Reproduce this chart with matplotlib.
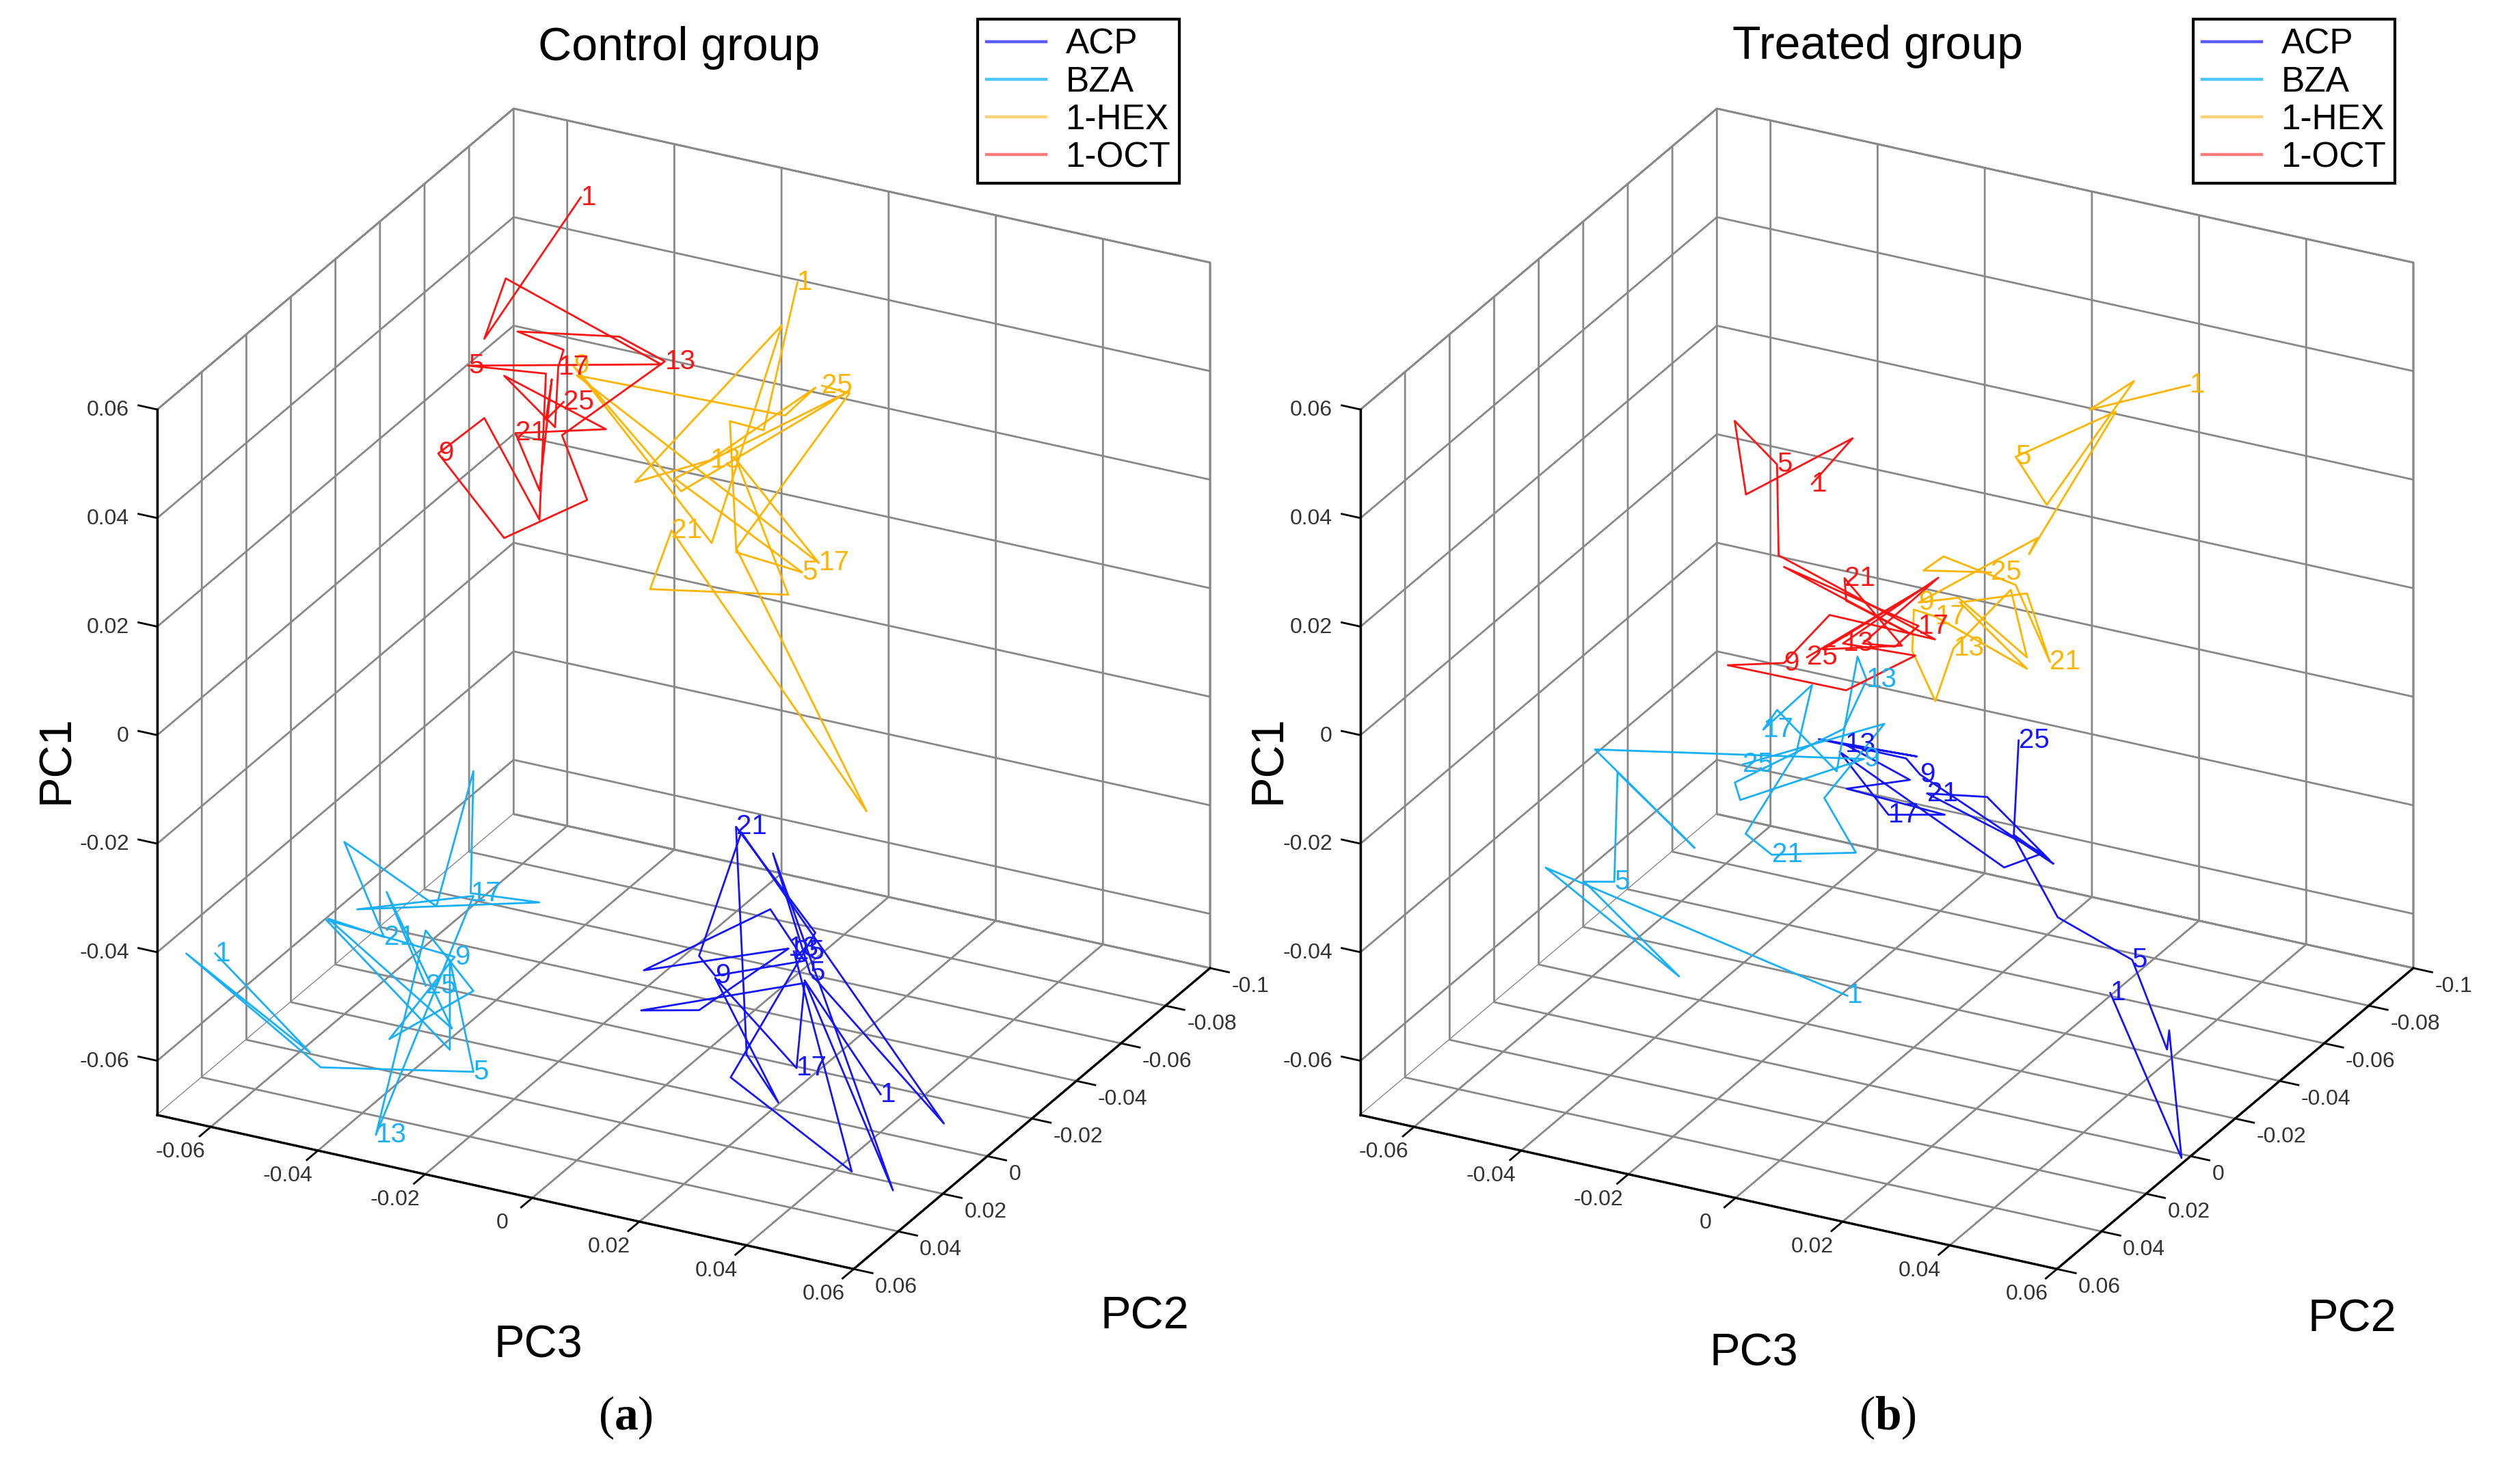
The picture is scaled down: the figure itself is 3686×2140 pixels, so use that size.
import numpy as np
import matplotlib
matplotlib.use("Agg")
import matplotlib.pyplot as plt
from matplotlib.lines import Line2D

plt.rcParams['font.family'] = ['Liberation Sans', 'DejaVu Sans']
plt.rcParams['mathtext.fontset'] = 'custom'
plt.rcParams['mathtext.rm'] = 'Liberation Serif'
plt.rcParams['mathtext.bf'] = 'Liberation Serif:bold'

W, H = 3687, 2140

# ---- data: time steps 1..25 of each odour trajectory (PC3, PC2, PC1) ----
group_names = ['ACP', 'BZA', '1-HEX', '1-OCT']
step_labels = ['1', '5', '9', '13', '17', '21', '25']
label_idx = [0, 4, 8, 12, 16, 20, 24]

# control group
ctrl_acp_pc3 = [0.0484, 0.0342, 0.0507, 0.0283, 0.0352, 0.0602, 0.0224, 0.0145, 0.0175, 0.0342, 0.0278, 0.0042, 0.0312,
                0.0145, 0.0037, 0.0342, 0.0327, 0.0175, 0.0293, 0.0234, 0.0214, 0.0362, 0.0204, 0.043, 0.0322]
ctrl_acp_pc2 = [0.02, 0.02, 0.02, 0.02, 0.02, 0.02, 0.02, 0.02, 0.02, 0.02, 0.02, 0.02, 0.02,
                0.02, 0.02, 0.02, 0.02, 0.02, 0.02, 0.02, 0.02, 0.02, 0.02, 0.02, 0.02]
ctrl_acp_pc1 = [-0.0542, -0.0363, -0.0714, -0.0142, -0.0347, -0.057, -0.0116, -0.0361, -0.0391, -0.0327, -0.0246, -0.041,
                -0.0311, -0.0461, -0.0485, -0.0368, -0.0528, -0.0395, -0.0599, -0.0524, -0.0108, -0.0271, -0.0572, -0.0696,
                -0.0314]

ctrl_bza_pc3 = [-0.0675, -0.0498, -0.0729, -0.0478, -0.0193, -0.0237, -0.0237, -0.0468, -0.0228, -0.035, -0.0193, -0.0282,
                -0.0375, -0.0193, -0.041, -0.007, -0.0198, -0.0193, -0.0262, -0.0434, -0.036, -0.0464, -0.0233, -0.0355,
                -0.0282]
ctrl_bza_pc2 = [0.04, 0.04, 0.04, 0.04, 0.04, 0.04, 0.04, 0.04, 0.04, 0.04, 0.04, 0.04, 0.04,
                0.04, 0.04, 0.04, 0.04, 0.04, 0.04, 0.04, 0.04, 0.04, 0.04, 0.04, 0.04]
ctrl_bza_pc1 = [-0.0466, -0.061, -0.0478, -0.0633, -0.0579, -0.0382, -0.0548, -0.0359, -0.0375, -0.0553, -0.043, -0.0338,
                -0.0735, -0.0255, -0.0327, -0.024, -0.0251, -0.0025, -0.0289, -0.0208, -0.0367, -0.0356, -0.0508, -0.0283,
                -0.044]

ctrl_hex_pc3 = [-0.0004, -0.0067, -0.013, -0.0118, 0.0005, -0.0233, 0.0093, -0.0221, -0.0422, -0.0164, -0.0033, -0.0307,
                -0.0167, 0.003, -0.0027, -0.0416, 0.0036, -0.0118, -0.0021, -0.0279, -0.0239, 0.0125, -0.0118, 0.0093,
                0.0042]
ctrl_hex_pc2 = [-0.06, -0.06, -0.06, -0.06, -0.06, -0.06, -0.06, -0.06, -0.06, -0.06, -0.06, -0.06, -0.06,
                -0.06, -0.06, -0.06, -0.06, -0.06, -0.06, -0.06, -0.06, -0.06, -0.06, -0.06, -0.06]
ctrl_hex_pc1 = [0.057, 0.0284, 0.0287, 0.0048, 0.0038, 0.0159, 0.0391, 0.0138, 0.0325, 0.0055, 0.0485, 0.0136, 0.0207,
                0.0384, 0.032, 0.0309, 0.0062, 0.0218, -0.0009, -0.0055, 0.0062, -0.0376, 0.0055, 0.0387, 0.039]

ctrl_oct_pc3 = [-0.045, -0.063, -0.059, -0.030, -0.066, -0.0515, -0.0527, -0.063, -0.0716, -0.0593, -0.0438, -0.0485,
                -0.0293, -0.0378, -0.0568, -0.0482, -0.0492, -0.0498, -0.0593, -0.0403, -0.0572, -0.0527, -0.0504,
                -0.0515, -0.0482]
ctrl_oct_pc2 = [-0.07, -0.07, -0.07, -0.07, -0.07, -0.07, -0.07, -0.07, -0.07, -0.07, -0.07, -0.07, -0.07,
                -0.07, -0.07, -0.07, -0.07, -0.07, -0.07, -0.07, -0.07, -0.07, -0.07, -0.07, -0.07]
ctrl_oct_pc1 = [0.0595, 0.0295, 0.0415, 0.032, 0.0239, 0.0256, -0.0016, 0.0149, 0.0065, -0.0064, 0.004, 0.0149, 0.0327,
                0.0354, 0.0322, 0.0307, 0.0273, 0.0161, 0.0235, 0.0178, 0.0134, 0.0038, 0.0248, 0.0171, 0.0211]

# treated group
trt_acp_pc3 = [0.045, 0.0583, 0.056, 0.0556, 0.0491, 0.0352, 0.0269, 0.0344, 0.0095, 0.0069, -0.0094, 0.0089, -0.0045,
               0.0076, -0.0042, 0.0141, 0.0036, -0.0055, 0.0252, 0.0324, 0.0108, 0.022, 0.0337, 0.027, 0.0279]
trt_acp_pc2 = [0.0, 0.0, 0.0, 0.0, 0.0, 0.0, 0.0, 0.0, 0.0, 0.0, 0.0, 0.0, 0.0,
               0.0, 0.0, 0.0, 0.0, 0.0, 0.0, 0.0, 0.0, 0.0, 0.0, 0.0, 0.0]
trt_acp_pc1 = [-0.0432, -0.0707, -0.0477, -0.0513, -0.0362, -0.0314, -0.0182, -0.0217, -0.0107, -0.0083, -0.0083, -0.0075,
               -0.0082, -0.0121, -0.0163, -0.0171, -0.0194, -0.0098, -0.0244, -0.0202, -0.0139, -0.0121, -0.0212, -0.018,
               -0.0004]

trt_bza_pc3 = [0.0084, -0.0479, -0.023, -0.0407, -0.0351, -0.0345, -0.0201, -0.0387, 0.0115, -0.0116, -0.0126, 0.0077,
               0.012, 0.0103, 0.0064, -0.0047, -0.0073, 0.0018, -0.0011, -0.0106, -0.0057, 0.01, 0.0041, 0.0153, -0.0112]
trt_bza_pc2 = [0.03, 0.03, 0.03, 0.03, 0.03, 0.03, 0.03, 0.03, 0.03, 0.03, 0.03, 0.03, 0.03,
               0.03, 0.03, 0.03, 0.03, 0.03, 0.03, 0.03, 0.03, 0.03, 0.03, 0.03, 0.03]
trt_bza_pc1 = [-0.0413, -0.03, -0.0446, -0.031, -0.0298, -0.0095, -0.0203, -0.0062, 0.003, -0.0096, -0.0066, 0.0077,
               0.0177, 0.0216, -0.0004, 0.0085, 0.0043, 0.0145, 0.0015, -0.0156, -0.0184, -0.0146, -0.0058, 0.0103, -0.003]

trt_hex_pc3 = [0.0349, 0.0162, 0.0245, 0.0082, 0.0024, 0.0211, 0.0049, 0.0064, -0.0157, -0.0083, 0.0045, 0.0015, -0.0092,
               -0.0126, -0.0169, -0.0166, -0.0126, 0.0045, -0.008, 0.0045, 0.0088, 0.0024, -0.0111, -0.0148, -0.0022]
trt_hex_pc2 = [-0.06, -0.06, -0.06, -0.06, -0.06, -0.06, -0.06, -0.06, -0.06, -0.06, -0.06, -0.06, -0.06,
               -0.06, -0.06, -0.06, -0.06, -0.06, -0.06, -0.06, -0.06, -0.06, -0.06, -0.06, -0.06]
trt_hex_pc1 = [0.0458, 0.0372, 0.0443, 0.0179, 0.0255, 0.0379, 0.0081, 0.0114, -0.0053, -0.0028, -0.011, 0.0008, -0.0123,
               -0.0228, -0.0145, -0.0068, -0.0072, -0.0131, -0.0036, 0.0008, -0.0109, 0.0019, 0.0042, 0.0008, 0.0032]

trt_oct_pc3 = [-0.0398, -0.0322, -0.0521, -0.0542, -0.0463, -0.046, -0.0168, -0.0365, -0.045, -0.0555, -0.0334, -0.0205,
               -0.034, -0.0162, -0.0303, -0.0242, -0.0199, -0.045, -0.0217, -0.0334, -0.0337, -0.023, -0.0377, -0.0193,
               -0.0407]
trt_oct_pc2 = [-0.07, -0.07, -0.07, -0.07, -0.07, -0.07, -0.07, -0.07, -0.07, -0.07, -0.07, -0.07, -0.07,
               -0.07, -0.07, -0.07, -0.07, -0.07, -0.07, -0.07, -0.07, -0.07, -0.07, -0.07, -0.07]
trt_oct_pc1 = [0.0078, 0.0179, 0.0032, 0.0163, 0.01, -0.0067, -0.0158, -0.0156, -0.0263, -0.029, -0.0288, -0.0196,
               -0.0203, -0.0043, -0.0195, -0.0187, -0.014, -0.0086, -0.0157, -0.0123, -0.0082, -0.0183, -0.0222, -0.0071,
               -0.0243]

# axes ticks
pc3_ticks = [-0.06, -0.04, -0.02, 0, 0.02, 0.04, 0.06]
pc3_ticklabels = ['-0.06', '-0.04', '-0.02', '0', '0.02', '0.04', '0.06']
pc2_ticks = [-0.1, -0.08, -0.06, -0.04, -0.02, 0, 0.02, 0.04, 0.06]
pc2_ticklabels = ['-0.1', '-0.08', '-0.06', '-0.04', '-0.02', '0', '0.02', '0.04', '0.06']
pc1_ticks = [-0.06, -0.04, -0.02, 0, 0.02, 0.04, 0.06]
pc1_ticklabels = ['-0.06', '-0.04', '-0.02', '0', '0.02', '0.04', '0.06']

line_colors = ['#1414ff', '#1ab0f8', '#ffb400', '#ff1414']
legend_colors = ['#5a5aff', '#4cc6ff', '#ffd27a', '#ff7a7a']
grid_color = '#888888'

X0, X1 = -0.07, 0.06      # PC3
Y0, Y1 = 0.06, -0.1       # PC2 (reversed)
Z0, Z1 = -0.07, 0.06      # PC1

panels = [
    ('Control group', '(a)',
     [(ctrl_acp_pc3, ctrl_acp_pc2, ctrl_acp_pc1), (ctrl_bza_pc3, ctrl_bza_pc2, ctrl_bza_pc1),
      (ctrl_hex_pc3, ctrl_hex_pc2, ctrl_hex_pc1), (ctrl_oct_pc3, ctrl_oct_pc2, ctrl_oct_pc1)]),
    ('Treated group', '(b)',
     [(trt_acp_pc3, trt_acp_pc2, trt_acp_pc1), (trt_bza_pc3, trt_bza_pc2, trt_bza_pc1),
      (trt_hex_pc3, trt_hex_pc2, trt_hex_pc1), (trt_oct_pc3, trt_oct_pc2, trt_oct_pc1)]),
]

# pixel targets for the box (front-left-bottom corner, width to right corner)
box_corner_px = [(230, H - 1631), (1990, H - 1631)]
box_width_px = 1540
title_pos = [(993, 70), (2747, 68)]
caption_pos = [(915, 2074), (2761, 2074)]
pc1_pos = [(83, 1111), (1856, 1111)]
pc3_pos = [(787, 1969), (2565, 1981)]
pc2_pos = [(1674, 1927), (3440, 1931)]
legend_pos = [(1430, 28), (3208, 28)]


def project(ax, x, y, z):
    M = ax.get_proj()
    v = M @ np.array([x, y, z, 1.0])
    return ax.transData.transform((v[0] / v[3], v[1] / v[3]))


def put_text(ax, x, y, z, s, **kw):
    px, py = project(ax, x, y, z)
    fig.text(px / W, py / H, s, **kw)


def setup(ax):
    ax.set_proj_type('ortho')
    ax.view_init(elev=25.6, azim=-62.9)
    ax.set_box_aspect((1, 1, 1))
    ax.set_facecolor((1, 1, 1, 0))
    ax.set_xticks(pc3_ticks)
    ax.set_yticks(pc2_ticks)
    ax.set_zticks(pc1_ticks)
    ax.set_xlim(X0, X1)
    ax.set_ylim(Y0, Y1)
    ax.set_zlim(Z0, Z1)
    for axis in (ax.xaxis, ax.yaxis, ax.zaxis):
        axis.set_ticklabels([])
        axis.set_pane_color((1, 1, 1, 1))
        axis.pane.set_edgecolor(grid_color)
        axis.pane.set_linewidth(2.0)
        axis.line.set_color((0, 0, 0, 0))
        axis.label.set_visible(False)
        axis._axinfo['grid'].update(color=grid_color, linewidth=2.0, linestyle='-')
        axis._axinfo['tick']['inward_factor'] = 0
        axis._axinfo['tick']['outward_factor'] = 0


fig = plt.figure(figsize=(W / 100, H / 100), dpi=100)

axes = []
for p in range(2):
    S = 1800
    cx = 1000 + p * 1760
    ax = fig.add_axes([(cx - S / 2) / W, (1100 - S / 2) / H, S / W, S / H], projection='3d')
    setup(ax)
    axes.append(ax)

fig.canvas.draw()

# hide the built-in (empty) tick label texts
for ax in axes:
    for axis in (ax.xaxis, ax.yaxis, ax.zaxis):
        for tick in axis.get_major_ticks() + axis.get_minor_ticks():
            tick.label1.set_visible(False)
            tick.label2.set_visible(False)
        axis.offsetText.set_visible(False)

# fit each cube onto the reference box position
for p, ax in enumerate(axes):
    bb = ax.get_position()
    S = bb.width * W
    cx = (bb.x0 + bb.width / 2) * W
    cy = (bb.y0 + bb.height / 2) * H
    p0 = project(ax, X0, Y0, Z0)
    p1 = project(ax, X1, Y1, Z0)
    s = box_width_px / (p1[0] - p0[0])
    tx, ty = box_corner_px[p]
    ncx = tx - (p0[0] - cx) * s
    ncy = ty - (p0[1] - cy) * s
    nS = S * s
    ax.set_position([(ncx - nS / 2) / W, (ncy - nS / 2) / H, nS / W, nS / H])

fig.canvas.draw()

for p, ax in enumerate(axes):
    title, caption, series = panels[p]

    for (pc3, pc2, pc1), col in zip(series, line_colors):
        ax.plot(pc3, pc2, pc1, color=col, lw=2.0)
        for i, lab in zip(label_idx, step_labels):
            put_text(ax, pc3[i], pc2[i], pc1[i], lab, color=col, fontsize=29, ha='left', va='center')

    # black front axes
    ax.plot([X0, X0], [Y0, Y0], [Z0, Z1], color='black', lw=2.4)
    ax.plot([X0, X1], [Y0, Y0], [Z0, Z0], color='black', lw=2.4)
    ax.plot([X1, X1], [Y0, Y1], [Z0, Z0], color='black', lw=2.4)

    for t, lab in zip(pc3_ticks, pc3_ticklabels):
        ax.plot([t, t], [Y0, Y0 + 0.005], [Z0, Z0], color='black', lw=2)
        put_text(ax, t, Y0 + 0.0135, Z0, lab, fontsize=23, color='#333333', ha='center', va='center')
    for t, lab in zip(pc2_ticks, pc2_ticklabels):
        ax.plot([X1, X1 + 0.0035], [t, t], [Z0, Z0], color='black', lw=2)
        put_text(ax, X1 + 0.004, t, Z0 - 0.0025, lab, fontsize=23, color='#333333', ha='left', va='center')
    for t, lab in zip(pc1_ticks, pc1_ticklabels):
        ax.plot([X0, X0 - 0.0035], [Y0, Y0], [t, t], color='black', lw=2)
        put_text(ax, X0 - 0.004, Y0 + 0.003, t, lab, fontsize=23, color='#333333', ha='right', va='center')

    fig.text(title_pos[p][0] / W, 1 - title_pos[p][1] / H, title, fontsize=49, ha='center', va='center')
    fig.text(pc1_pos[p][0] / W, 1 - pc1_pos[p][1] / H, 'PC1', fontsize=48, rotation=90, ha='center', va='center')
    fig.text(pc3_pos[p][0] / W, 1 - pc3_pos[p][1] / H, 'PC3', fontsize=48, ha='center', va='center')
    fig.text(pc2_pos[p][0] / W, 1 - pc2_pos[p][1] / H, 'PC2', fontsize=48, ha='center', va='center')
    fig.text(caption_pos[p][0] / W, 1 - caption_pos[p][1] / H,
             r'($\mathbf{' + caption[1] + r'}$)', family='Liberation Serif', fontsize=50, ha='center', va='center')

    handles = [Line2D([], [], color=c, lw=3.2) for c in legend_colors]
    leg = fig.legend(handles, group_names, loc='upper left',
                     bbox_to_anchor=(legend_pos[p][0] / W, 1 - legend_pos[p][1] / H),
                     fontsize=37, frameon=True, fancybox=False, edgecolor='black', framealpha=1,
                     borderpad=0.25, handlelength=1.7, handletextpad=0.55, labelspacing=0.12,
                     borderaxespad=0)
    leg.get_frame().set_linewidth(3)

fig.savefig('out.png', dpi=100)
